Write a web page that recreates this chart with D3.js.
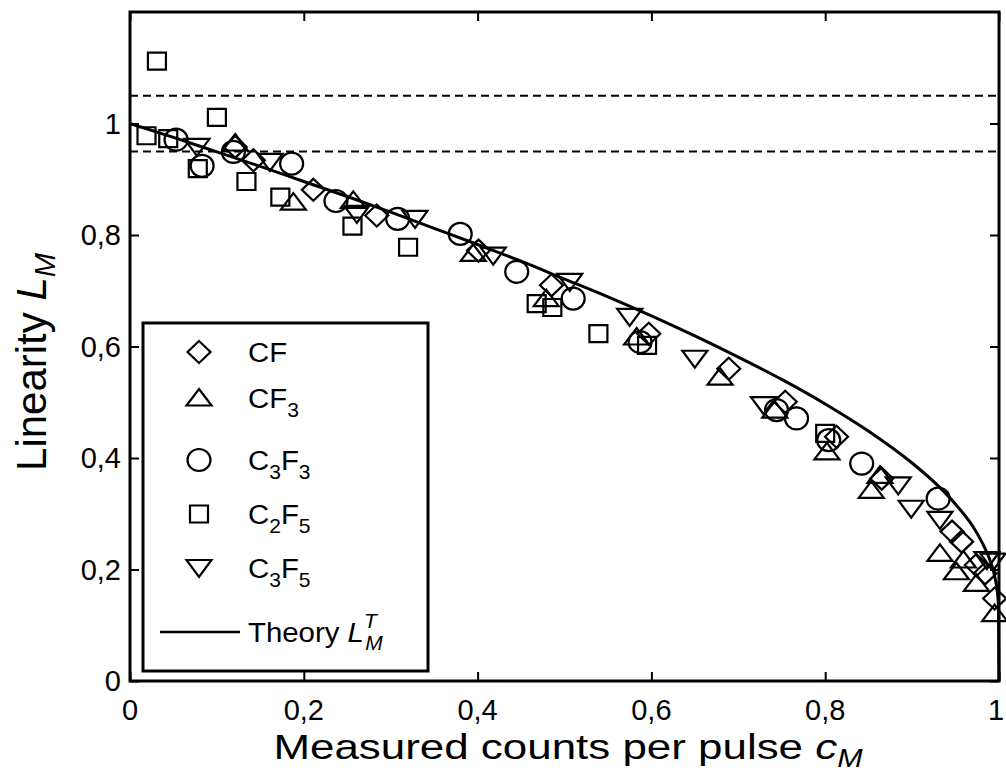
<!DOCTYPE html>
<html>
<head>
<meta charset="utf-8">
<script src="https://d3js.org/d3.v7.min.js"></script>
<style>
  body { margin: 0; background: #fff; }
  text { font-family: "Liberation Sans", Arial, sans-serif; fill: #000; }
</style>
</head>
<body>
<div id="chart"></div>
<script>
// data: [cM, LM]
const cfData = [[0.121,0.958],[0.142,0.934],[0.211,0.881],[0.284,0.835],[0.401,0.772],[0.485,0.710],[0.597,0.623],
  [0.689,0.560],[0.754,0.501],[0.813,0.438],[0.865,0.363],[0.946,0.268],[0.957,0.250],[0.974,0.208],[0.984,0.193],[0.995,0.148]];
const cf3Data = [[0.121,0.965],[0.188,0.859],[0.257,0.862],[0.395,0.767],[0.479,0.686],[0.583,0.617],[0.679,0.545],
  [0.742,0.486],[0.802,0.411],[0.863,0.369],[0.853,0.342],[0.932,0.229],[0.951,0.196],[0.959,0.217],[0.974,0.175],[0.995,0.121]];
const c3f3Data = [[0.053,0.971],[0.083,0.924],[0.119,0.949],[0.186,0.928],[0.237,0.861],[0.308,0.829],[0.380,0.802],
  [0.445,0.734],[0.510,0.686],[0.587,0.608],[0.744,0.486],[0.767,0.471],[0.804,0.432],[0.842,0.390],[0.930,0.327]];
const c2f5Data = [[0.019,0.978],[0.031,1.112],[0.044,0.973],[0.078,0.919],[0.100,1.011],[0.134,0.896],[0.173,0.868],
  [0.256,0.816],[0.320,0.778],[0.468,0.677],[0.486,0.670],[0.539,0.623],[0.595,0.602],[0.800,0.444]];
const c3f5Data = [[0.077,0.958],[0.161,0.931],[0.261,0.838],[0.328,0.829],[0.418,0.763],[0.506,0.716],[0.575,0.653],
  [0.650,0.578],[0.729,0.495],[0.884,0.351],[0.899,0.309],[0.932,0.289],[0.986,0.217],[0.993,0.214]];

// theory curve points
const theoryC = [0, 0.05, 0.1, 0.15, 0.2, 0.25, 0.3, 0.35, 0.4, 0.45, 0.5, 0.55, 0.6, 0.65, 0.7, 0.75, 0.8,
  0.85, 0.9, 0.93, 0.95, 0.97, 0.98, 0.99, 0.995, 0.999, 0.9995, 1];
const theoryL = [1, 0.975, 0.949, 0.923, 0.896, 0.869, 0.841, 0.812, 0.783, 0.753, 0.721, 0.689, 0.655, 0.619, 0.581, 0.541, 0.497,
  0.448, 0.391, 0.350, 0.317, 0.277, 0.250, 0.215, 0.188, 0.145, 0.12, 0];

const refLines = [1.05, 0.95];
const xTicks = [0, 0.2, 0.4, 0.6, 0.8, 1];
const yTicks = [0, 0.2, 0.4, 0.6, 0.8, 1];

const W = 1006, H = 773;
const m = { left: 130, right: 999, top: 12, bottom: 681 };

const svg = d3.select("#chart").append("svg")
    .attr("width", W)
    .attr("height", H);

const x = d3.scaleLinear().domain([0, 1]).range([m.left, m.right]);
const y = d3.scaleLinear().domain([0, 1.2]).range([m.bottom, m.top]);
const fmt = d => String(d).replace(".", ",");

// dashed reference lines
svg.selectAll(".ref")
    .data(refLines)
    .join("line")
    .attr("x1", m.left).attr("x2", m.right)
    .attr("y1", d => y(d)).attr("y2", d => y(d))
    .attr("stroke", "#000")
    .attr("stroke-width", 2)
    .attr("stroke-dasharray", "8,5");

// theory curve
const theory = theoryC.map((c, i) => [c, theoryL[i]]);
svg.append("path")
    .datum(theory)
    .attr("fill", "none")
    .attr("stroke", "#000")
    .attr("stroke-width", 3)
    .attr("d", d3.line().x(d => x(d[0])).y(d => y(d[1])).curve(d3.curveMonotoneX));

// marker shapes, centred on 0,0
const shapes = {
    diamond: "M0,-11L11.5,0L0,11L-11.5,0Z",
    up: "M0,-9L12.5,7.5L-12.5,7.5Z",
    square: "M-9,-8.5H9V8.5H-9Z",
    down: "M-12.5,-8L12.5,-8L0,9Z"
};

function drawMarkers(g, type) {
    if (type === "circle") {
        g.append("ellipse").attr("rx", 11.5).attr("ry", 11);
    } else {
        g.append("path").attr("d", shapes[type]);
    }
    g.selectAll("path,ellipse")
        .attr("fill", "none")
        .attr("stroke", "#000")
        .attr("stroke-width", 2.2);
}

const series = [
    { data: cfData, type: "diamond" },
    { data: cf3Data, type: "up" },
    { data: c3f3Data, type: "circle" },
    { data: c2f5Data, type: "square" },
    { data: c3f5Data, type: "down" }
];

series.forEach(s => {
    svg.append("g")
        .selectAll("g")
        .data(s.data)
        .join("g")
        .attr("transform", d => `translate(${x(d[0])},${y(d[1])})`)
        .each(function () { drawMarkers(d3.select(this), s.type); });
});

// axes box with inward ticks
const xAxisB = d3.axisBottom(x).tickValues(xTicks).tickSize(-9).tickFormat("");
const xAxisT = d3.axisTop(x).tickValues(xTicks).tickSize(-9).tickFormat("");
const yAxisL = d3.axisLeft(y).tickValues(yTicks).tickSize(-9).tickFormat("");
const yAxisR = d3.axisRight(y).tickValues(yTicks).tickSize(-9).tickFormat("");

function styleAxis(g) {
    g.select(".domain").remove();
    g.selectAll("line").attr("stroke", "#000").attr("stroke-width", 2);
}
svg.append("g").attr("transform", `translate(0,${m.bottom})`).call(xAxisB).call(styleAxis);
svg.append("g").attr("transform", `translate(0,${m.top})`).call(xAxisT).call(styleAxis);
svg.append("g").attr("transform", `translate(${m.left},0)`).call(yAxisL).call(styleAxis);
svg.append("g").attr("transform", `translate(${m.right},0)`).call(yAxisR).call(styleAxis);

svg.append("rect")
    .attr("x", m.left).attr("y", m.top)
    .attr("width", m.right - m.left).attr("height", m.bottom - m.top)
    .attr("fill", "none")
    .attr("stroke", "#000")
    .attr("stroke-width", 3);

// tick labels
svg.append("g").selectAll("text")
    .data(xTicks)
    .join("text")
    .attr("x", d => d === 1 ? x(d) - 3 : x(d))
    .attr("y", 720)
    .attr("text-anchor", "middle")
    .style("font-size", "29px")
    .text(fmt);

svg.append("g").selectAll("text")
    .data(yTicks)
    .join("text")
    .attr("x", 121)
    .attr("y", d => y(d) + 10)
    .attr("text-anchor", "end")
    .style("font-size", "29px")
    .text(fmt);

// axis labels
const xl = svg.append("text")
    .attr("transform", "translate(568,759) scale(1.22,1)")
    .attr("text-anchor", "middle")
    .style("font-size", "36px");
xl.append("tspan").text("Measured counts per pulse ");
xl.append("tspan").style("font-style", "italic").text("c");
xl.append("tspan").attr("dy", 8).style("font-size", "25px").style("font-style", "italic").text("M");

const yl = svg.append("text")
    .attr("transform", "translate(46,362) rotate(-90)")
    .attr("text-anchor", "middle")
    .style("font-size", "42px");
yl.append("tspan").text("Linearity ");
yl.append("tspan").style("font-style", "italic").text("L");
yl.append("tspan").attr("dy", 9).style("font-size", "29px").style("font-style", "italic").text("M");

// legend
const legend = svg.append("g");
legend.append("rect")
    .attr("x", 143).attr("y", 323)
    .attr("width", 285).attr("height", 348)
    .attr("fill", "#fff")
    .attr("stroke", "#000")
    .attr("stroke-width", 3);

const legendItems = [
    { type: "diamond", yc: 352, parts: [["CF", 0]] },
    { type: "up", yc: 398, parts: [["CF", 0], ["3", 1]] },
    { type: "circle", yc: 460, parts: [["C", 0], ["3", 1], ["F", 0], ["3", 1]] },
    { type: "square", yc: 514, parts: [["C", 0], ["2", 1], ["F", 0], ["5", 1]] },
    { type: "down", yc: 568, parts: [["C", 0], ["3", 1], ["F", 0], ["5", 1]] }
];

legendItems.forEach(item => {
    const g = legend.append("g").attr("transform", `translate(199,${item.yc})`);
    drawMarkers(g, item.type);
    const t = legend.append("text")
        .attr("transform", `translate(248,${item.yc + 10}) scale(1.05,1)`)
        .style("font-size", "28px");
    let shift = 0;
    item.parts.forEach(p => {
        const dy = p[1] ? 9 - shift : -shift;
        shift += dy;
        t.append("tspan")
            .attr("dy", dy)
            .style("font-size", p[1] ? "20px" : "28px")
            .text(p[0]);
    });
});

legend.append("line")
    .attr("x1", 160).attr("x2", 240)
    .attr("y1", 632).attr("y2", 632)
    .attr("stroke", "#000")
    .attr("stroke-width", 2.5);
const th = legend.append("text")
    .attr("transform", "translate(248,642) scale(1.05,1)")
    .style("font-size", "28px");
th.append("tspan").text("Theory ");
th.append("tspan").style("font-style", "italic").text("L");
th.append("tspan").attr("dy", -14).style("font-size", "20px").style("font-style", "italic").text("T");
th.append("tspan").attr("dx", -11).attr("dy", 22).style("font-size", "20px").style("font-style", "italic").text("M");
</script>
</body>
</html>
